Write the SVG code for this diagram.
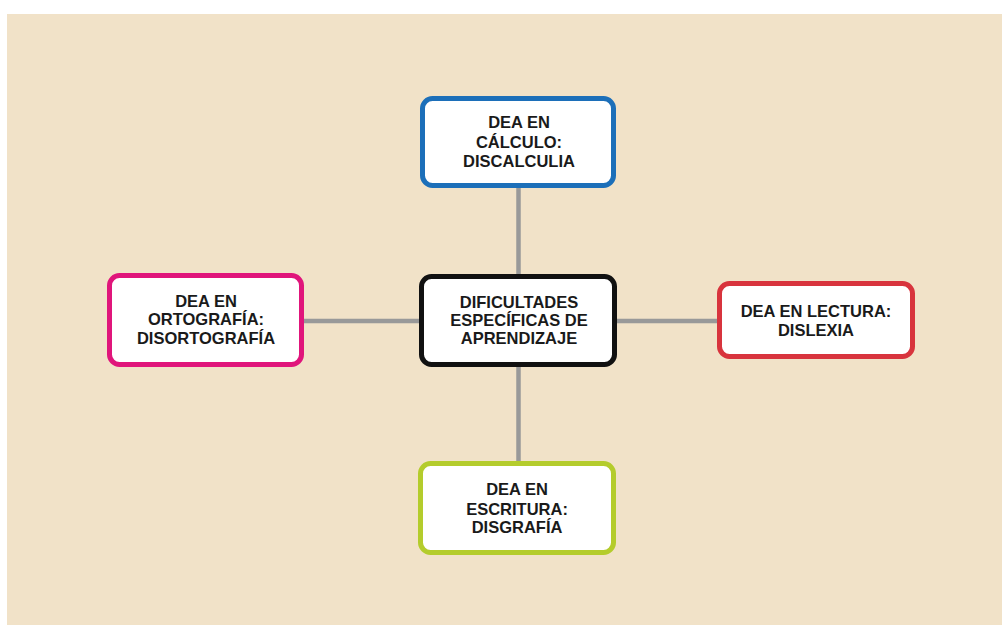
<svg xmlns="http://www.w3.org/2000/svg" width="1002" height="626" viewBox="0 0 1002 626">
<style>
.box{fill:#ffffff;stroke-width:5}
.t{font-family:"Liberation Sans",Arial,sans-serif;font-weight:bold;font-size:16.5px;fill:#1a1a1a;text-anchor:middle}
.c{stroke:#999999;stroke-width:4.5;fill:none}
</style>
<rect x="0" y="0" width="1002" height="626" fill="#ffffff"/>
<rect x="7" y="14" width="995" height="611" fill="#f1e2c8"/>
<g id="connectors">
<line class="c" x1="518.5" y1="186" x2="518.5" y2="276"/>
<line class="c" x1="518.5" y1="365" x2="518.5" y2="463"/>
<line class="c" x1="302" y1="321" x2="421" y2="321"/>
<line class="c" x1="615" y1="321" x2="719" y2="321"/>
</g>
<g id="calculo">
<rect class="box" x="422.5" y="98.5" width="191" height="87" rx="10" stroke="#1c6fb9"/>
<text class="t" x="519" y="128">DEA EN</text>
<text class="t" x="519" y="148">CÁLCULO:</text>
<text class="t" x="519" y="167">DISCALCULIA</text>
</g>
<g id="centro">
<rect class="box" x="421.5" y="276.5" width="193" height="88" rx="10" stroke="#111111"/>
<text class="t" x="519" y="308">DIFICULTADES</text>
<text class="t" x="519" y="326">ESPECÍFICAS DE</text>
<text class="t" x="519" y="344">APRENDIZAJE</text>
</g>
<g id="ortografia">
<rect class="box" x="109.5" y="275.5" width="192" height="89" rx="10" stroke="#e0157b"/>
<text class="t" x="206" y="307">DEA EN</text>
<text class="t" x="206" y="325">ORTOGRAFÍA:</text>
<text class="t" x="206" y="344">DISORTOGRAFÍA</text>
</g>
<g id="lectura">
<rect class="box" x="719.5" y="283.5" width="193" height="73" rx="10" stroke="#d8343d"/>
<text class="t" x="816" y="317">DEA EN LECTURA:</text>
<text class="t" x="816" y="336">DISLEXIA</text>
</g>
<g id="escritura">
<rect class="box" x="420.5" y="463.5" width="193" height="89" rx="10" stroke="#b4cc2c"/>
<text class="t" x="517" y="495">DEA EN</text>
<text class="t" x="517" y="515">ESCRITURA:</text>
<text class="t" x="517" y="533">DISGRAFÍA</text>
</g>
</svg>
